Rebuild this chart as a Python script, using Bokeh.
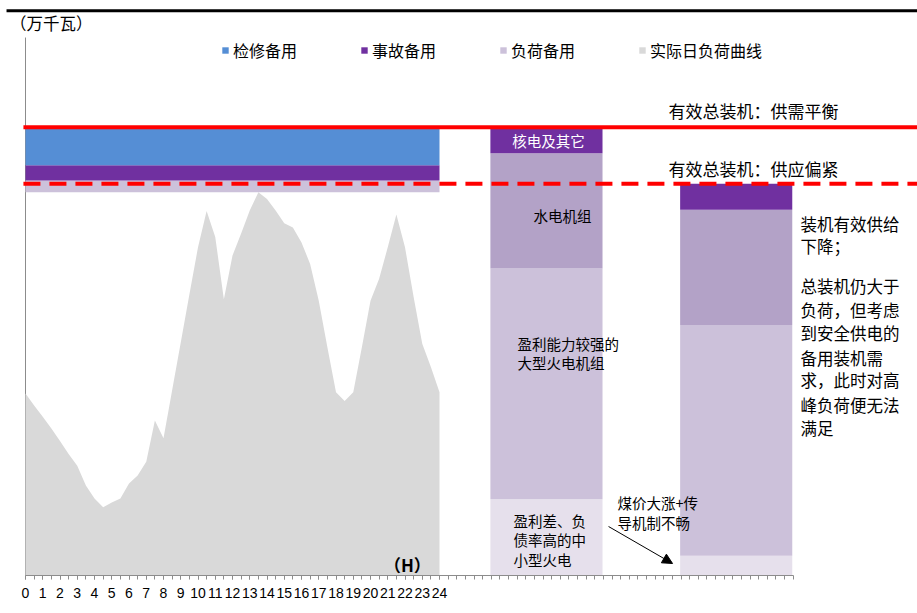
from bokeh.plotting import figure
from bokeh.models import (Range1d, FixedTicker, Legend, LegendItem, ColumnDataSource,
                          Arrow, NormalHead)
from bokeh.core.properties import value
from bokeh.embed import file_html
from bokeh.resources import INLINE

# ---- data (万千瓦) ----
# actual daily load curve, half-hourly points from 0h to 24h
load_hours = [k * 0.5 for k in range(49)]
load_values = [40.6, 37.9, 35.4, 32.8, 30.0, 27.1, 24.5, 20.1, 17.2, 15.2,
               16.3, 17.2, 20.5, 22.3, 25.4, 34.6, 30.6, 41.3, 52.0, 62.7,
               73.2, 81.3, 75.5, 61.6, 71.4, 76.3, 81.4, 85.5, 84.0, 81.4,
               78.6, 77.6, 74.3, 69.5, 61.3, 50.9, 40.9, 38.9, 40.9, 50.9,
               61.3, 66.2, 73.2, 80.5, 73.2, 62.1, 51.7, 46.5, 40.9]

# reserves stacked on top of the daily peak load
reserve_names = ["负荷备用", "事故备用", "检修备用"]
reserve_values = [2.6, 3.4, 8.5]

# installed capacity by unit type: balanced supply vs. tight supply
cap_x = [30.2, 41.2]
cap_small_thermal = [17.0, 4.4]
cap_large_thermal = [51.5, 51.5]
cap_hydro = [25.7, 25.7]
cap_nuclear = [5.8, 5.8]

capacity_balanced = 100.0
capacity_tight = 87.4

hour_labels = [str(h) for h in range(25)]

# ---- colours ----
C_MAINT = "#558ED5"
C_ACCID = "#7030A0"
C_LOADRES = "#CCC1DA"
C_LOAD = "#D9D9D9"
C_HYDRO = "#B3A2C7"
C_LARGE = "#CCC1DA"
C_SMALL = "#E6E0EC"
CJK = "Noto Sans CJK SC"

W, H = 917, 613
PX_PER_HOUR = 17.25
PX_PER_UNIT = 4.483
LEFT_PAD, BOTTOM_PAD = 25, 38

p = figure(width=W, height=H, output_backend="svg", toolbar_location=None,
           x_range=Range1d(-LEFT_PAD / PX_PER_HOUR, (W - LEFT_PAD) / PX_PER_HOUR),
           y_range=Range1d(0, (H - BOTTOM_PAD) / PX_PER_UNIT),
           min_border=0, min_border_bottom=BOTTOM_PAD)
p.outline_line_color = None
p.grid.visible = False
p.yaxis.visible = False

# hour axis
xa = p.xaxis[0]
xa.bounds = (0, 44.5)
xa.ticker = FixedTicker(ticks=list(range(25)), minor_ticks=[k * 0.5 for k in range(90)])
xa.major_label_overrides = {h: lab for h, lab in zip(range(25), hour_labels)}
xa.axis_line_color = "#8C8C8C"
xa.major_tick_line_color = "#8C8C8C"
xa.minor_tick_line_color = "#8C8C8C"
xa.major_tick_in = 0
xa.major_tick_out = 4
xa.minor_tick_in = 0
xa.minor_tick_out = 4
xa.major_label_standoff = 8
xa.major_label_text_font = "Liberation Sans"
xa.major_label_text_font_size = "14px"
xa.major_label_text_color = "#000000"

# vertical value axis line
p.segment(x0=[0], y0=[0], x1=[0], y1=[120], line_color="#8C8C8C", line_width=1)

# daily load area
r_load = p.varea(x=load_hours, y1=[0] * len(load_hours), y2=load_values,
                 fill_color=C_LOAD)

# reserves on top of the peak load, across the whole day
peak = max(load_values)
day_mid = (load_hours[0] + load_hours[-1]) / 2
day_len = load_hours[-1] - load_hours[0]
res_colors = [C_LOADRES, C_ACCID, C_MAINT]
res_renderers = {}
base = peak
for name, v, c in zip(reserve_names, reserve_values, res_colors):
    res_renderers[name] = p.vbar(x=[day_mid], width=day_len, bottom=[base], top=[base + v],
                                 fill_color=c, line_color=None)
    base += v

# installed capacity stacks
src = ColumnDataSource(dict(x=cap_x, small=cap_small_thermal, large=cap_large_thermal,
                            hydro=cap_hydro, nuclear=cap_nuclear))
p.vbar_stack(["small", "large", "hydro", "nuclear"], x="x", width=6.5, source=src,
             color=[C_SMALL, C_LARGE, C_HYDRO, C_ACCID], line_color=None)

# capacity levels
p.segment(x0=[-0.12], y0=[capacity_balanced], x1=[52], y1=[capacity_balanced],
          line_color="#FF0000", line_width=4)
p.segment(x0=[-0.12], y0=[capacity_tight], x1=[52], y1=[capacity_tight],
          line_color="#FF0000", line_width=4, line_dash="17 9")

# rule across the top
p.segment(x0=[-1.1], y0=[126.0], x1=[52], y1=[126.0], line_color="#000000", line_width=3)

# unit label
p.text(x=[-0.9], y=[123.3], text=["（万千瓦）"], text_font=value(CJK),
       text_font_size=value("16.5px"), text_baseline="middle", text_align="left",
       text_color="#000000")

# labels inside the capacity bars
p.text(x=[30.32], y=[97.0], text=["核电及其它"], text_font=value(CJK),
       text_font_size=value("14.5px"), text_baseline="middle", text_align="center",
       text_color="#FFFFFF")
bar_text = ["水电机组", "盈利能力较强的", "大型火电机组", "盈利差、负", "债率高的中", "小型火电"]
bar_text_x = [29.45, 28.52, 28.52, 28.29, 28.29, 28.29]
bar_text_y = [80.3, 51.75, 47.5, 12.27, 8.03, 3.57]
p.text(x=bar_text_x, y=bar_text_y, text=bar_text, text_font=value(CJK),
       text_font_size=value("14.5px"), text_baseline="middle", text_align="left",
       text_color="#000000")

# coal price note and arrow
coal_text = ["煤价大涨+传", "导机制不畅"]
p.text(x=[34.32, 34.32], y=[16.28, 11.82], text=coal_text, text_font=value(CJK),
       text_font_size=value("14.5px"), text_baseline="middle", text_align="left",
       text_color="#000000")
p.add_layout(Arrow(x_start=33.8, y_start=10.93, x_end=37.51, y_end=2.68,
                   line_color="#000000", line_width=1,
                   end=NormalHead(size=10, fill_color="#000000", line_color="#000000")))

# capacity level captions
level_text = ["有效总装机：供需平衡", "有效总装机：供应偏紧"]
p.text(x=[37.28, 37.28], y=[103.7, 90.8], text=level_text, text_font=value(CJK),
       text_font_size=value("17px"), text_baseline="middle", text_align="left",
       text_color="#000000")

# explanation on the right
side_text = ["装机有效供给", "下降；", "总装机仍大于", "负荷，但考虑", "到安全供电的",
             "备用装机需", "求，此时对高", "峰负荷便无法", "满足"]
side_y = [78.5, 73.4, 64.5, 59.3, 54.0, 48.6, 43.5, 38.1, 33.0]
p.text(x=[44.93] * len(side_text), y=side_y, text=side_text, text_font=value(CJK),
       text_font_size=value("16.5px"), text_baseline="middle", text_align="left",
       text_color="#000000")

# hour unit
p.text(x=[22.14], y=[2.45], text=["（H）"], text_font=value(CJK),
       text_font_size=value("17px"), text_font_style="bold", text_baseline="middle",
       text_align="center", text_color="#000000")

legend = Legend(items=[LegendItem(label="检修备用", renderers=[res_renderers["检修备用"]]),
                       LegendItem(label="事故备用", renderers=[res_renderers["事故备用"]]),
                       LegendItem(label="负荷备用", renderers=[res_renderers["负荷备用"]]),
                       LegendItem(label="实际日负荷曲线", renderers=[r_load])],
                orientation="horizontal", location=(221, 513),
                glyph_width=8, glyph_height=8, label_standoff=4, label_width=115,
                label_height=16, spacing=12, padding=0, margin=0,
                border_line_color=None, background_fill_alpha=0,
                label_text_font=CJK, label_text_font_size="16px",
                label_text_color="#000000")
p.add_layout(legend)

open("out.html", "w").write(file_html(p, INLINE))
